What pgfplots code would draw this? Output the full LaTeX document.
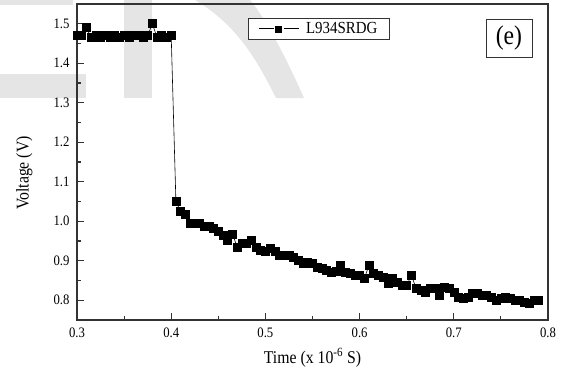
\documentclass[border=0pt]{standalone}
\usepackage{pgfplots}
\pgfplotsset{compat=1.18}
\usepackage{fontspec}
\setmainfont[FakeStretch=0.88]{Liberation Serif}
\pgfplotstableread{
x y
0.300 1.470
0.305 1.470
0.310 1.490
0.315 1.465
0.320 1.470
0.325 1.465
0.330 1.470
0.335 1.465
0.340 1.470
0.345 1.465
0.350 1.470
0.355 1.465
0.360 1.470
0.365 1.470
0.370 1.465
0.375 1.470
0.380 1.500
0.385 1.465
0.390 1.470
0.395 1.465
0.400 1.470
0.405 1.050
0.410 1.025
0.415 1.017
0.420 0.994
0.425 0.994
0.430 0.994
0.435 0.986
0.440 0.986
0.445 0.983
0.450 0.975
0.455 0.965
0.460 0.952
0.465 0.968
0.470 0.935
0.475 0.944
0.480 0.945
0.485 0.952
0.490 0.935
0.495 0.927
0.500 0.924
0.505 0.931
0.510 0.924
0.515 0.914
0.520 0.914
0.525 0.914
0.530 0.910
0.535 0.901
0.540 0.893
0.545 0.897
0.550 0.893
0.555 0.884
0.560 0.880
0.565 0.876
0.570 0.872
0.575 0.874
0.580 0.889
0.585 0.872
0.590 0.868
0.595 0.863
0.600 0.863
0.605 0.855
0.610 0.889
0.615 0.868
0.620 0.863
0.625 0.859
0.630 0.842
0.635 0.855
0.640 0.846
0.645 0.838
0.650 0.838
0.655 0.863
0.660 0.830
0.665 0.825
0.670 0.821
0.675 0.830
0.680 0.830
0.685 0.813
0.690 0.834
0.695 0.830
0.700 0.821
0.705 0.808
0.710 0.804
0.715 0.808
0.720 0.817
0.725 0.817
0.730 0.813
0.735 0.813
0.740 0.808
0.745 0.800
0.750 0.804
0.755 0.808
0.760 0.804
0.765 0.800
0.770 0.800
0.775 0.796
0.780 0.792
0.785 0.800
0.790 0.800
}\datatable
\begin{document}
\begin{tikzpicture}[x=1bp,y=1bp]
% light grey watermark behind the plot
\fill[gray!20] (-77,315) rectangle (-4,320);
\fill[gray!20] (-77,222) rectangle (9,246);
\fill[gray!20] (47,222) rectangle (75,320);
\fill[gray!20] (118,320) -- (173,320) .. controls (190,300) and (210,260) .. (227,222) -- (199,222) .. controls (180,260) and (160,295) .. (118,320) -- cycle;
\begin{axis}[
  at={(0,0)}, anchor=south west,
  scale only axis,
  width=471bp, height=316bp,
  xmin=0.3, xmax=0.8, ymin=0.75, ymax=1.55,
  xtick={0.3,0.4,0.5,0.6,0.7,0.8},
  ytick={0.8,0.9,1.0,1.1,1.2,1.3,1.4,1.5},
  minor x tick num=1, minor y tick num=1,
  xtick pos=left, ytick pos=left,
  tick align=inside,
  major tick length=7bp, minor tick length=4bp,
  axis line style={black!80, line width=1.1bp},
  tick style={black!80, line width=1.1bp},
  /pgf/number format/.cd, fixed, fixed zerofill, precision=1, assume math mode=true,
  /pgfplots/.cd,
  ticklabel style={font=\fontsize{14.5}{16}\selectfont},
  yticklabel style={xshift=-4bp},
  xticklabel style={yshift=-4bp},
  xlabel={Time (x 10\textsuperscript{-6} S)},
  ylabel={Voltage (V)},
  label style={font=\fontsize{18}{20}\selectfont},
  xlabel style={at={(axis description cs:0.5,0)}, anchor=north, yshift=-25bp},
  ylabel style={at={(axis description cs:0,0.465)}, anchor=south, yshift=41bp},
  legend style={at={(axis description cs:0.363,0.955)}, anchor=north west,
    draw=black!80, line width=0.6bp, inner xsep=10bp, inner ysep=2bp,
    font=\fontsize{17}{19}\selectfont},
  legend cell align=left,
  legend image code/.code={
    \draw[black, line width=0.8bp] (0bp,0bp) -- (15bp,0bp);
    \fill[black] (17bp,-3bp) rectangle (23bp,3bp);
    \draw[black, line width=0.8bp] (25bp,0bp) -- (40bp,0bp);
  },
]
\addplot[black, line width=0.6bp, mark=square*, mark size=4bp, mark options={solid, fill=black}] table {\datatable};
\addlegendentry{\hspace{5bp}L934SRDG\hspace{4bp}}
\node[draw=black!80, line width=0.6bp, minimum width=46bp, minimum height=38bp, inner sep=0pt,
  font=\fontsize{27}{29}\selectfont] at (axis description cs:0.917,0.892) {(e)};
\end{axis}
\path (-77,-54) rectangle (488,320);
\end{tikzpicture}
\end{document}
